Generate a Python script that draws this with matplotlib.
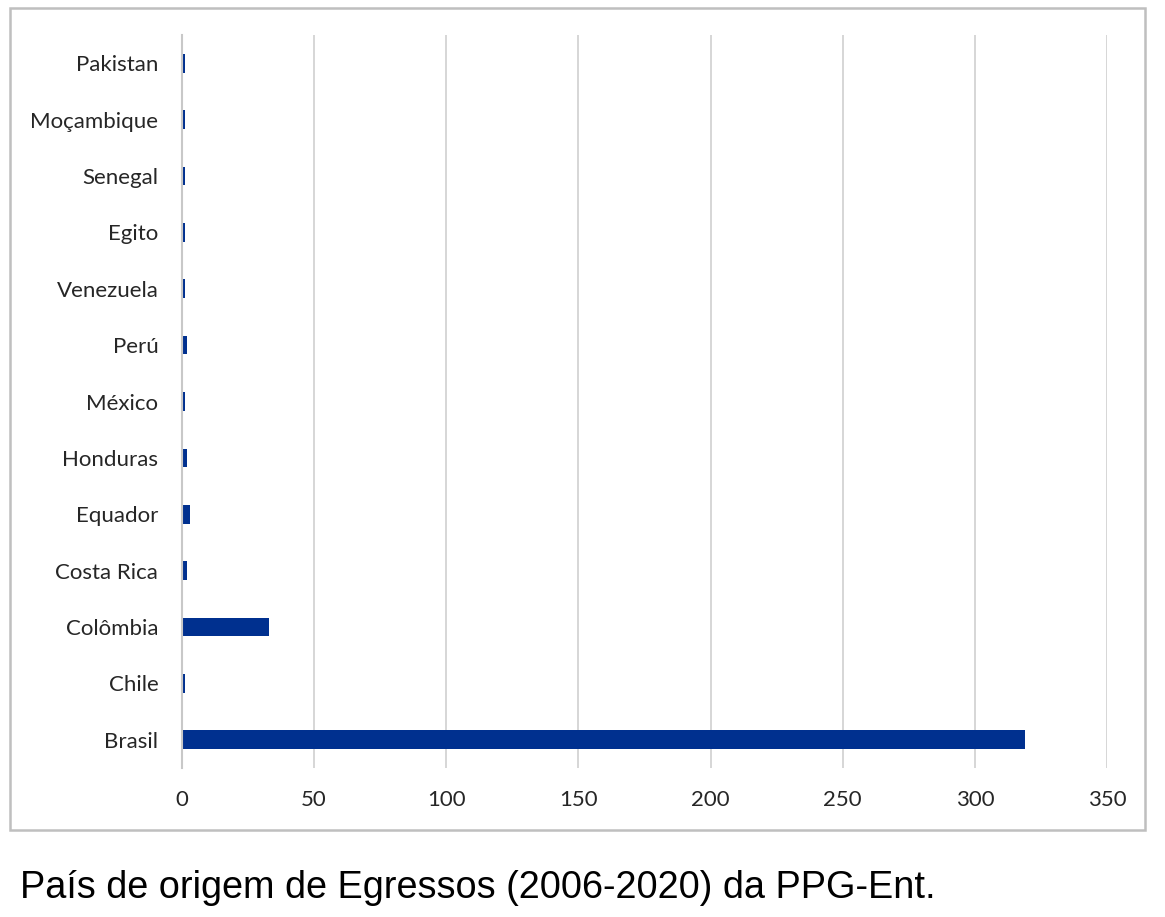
import matplotlib.pyplot as plt
from matplotlib.patches import Rectangle

paises = ['Brasil', 'Chile', 'Colômbia', 'Costa Rica', 'Equador', 'Honduras',
          'México', 'Perú', 'Venezuela', 'Egito', 'Senegal', 'Moçambique', 'Pakistan']
egressos = [319, 1, 33, 2, 3, 2, 1, 2, 1, 1, 1, 1, 1]
xticks = [0, 50, 100, 150, 200, 250, 300, 350]

fig = plt.figure(figsize=(11.65, 9.17), dpi=100)
ax = fig.add_axes([0.1562, 0.1625, 0.794, 0.7993])

ax.barh(range(len(paises)), egressos, height=0.33, color='#00308f', zorder=3)
ax.set_ylim(-0.5, len(paises) - 0.5)
ax.set_xlim(0, 350)
ax.set_yticks(range(len(paises)))
ax.set_yticklabels(paises, fontsize=16, family='Lato', color='#262626')
ax.set_xticks(xticks)
ax.set_xticklabels([str(v) for v in xticks], fontsize=16, family='Lato', color='#262626')
ax.tick_params(axis='y', length=0, pad=17)
ax.tick_params(axis='x', length=0, pad=16)
ax.grid(True, axis='x', color='#d0d0d0', linewidth=1.2, zorder=0)
for s in ['top', 'right', 'bottom']:
    ax.spines[s].set_visible(False)
ax.spines['left'].set_color('#c8c8c8')
ax.spines['left'].set_linewidth(1.5)
ax.spines['left'].set_zorder(4)

# moldura do gráfico
fig.patches.append(Rectangle((10 / 1165, 1 - 830 / 917), 1135 / 1165, 822 / 917,
                             transform=fig.transFigure, fill=False,
                             edgecolor='#bfbfbf', linewidth=1.8))

fig.text(20 / 1165, 1 - 888 / 917, 'País de origem de Egressos (2006-2020) da PPG-Ent.',
         fontsize=27.3, family='Liberation Sans',
         va='center', ha='left', color='black')

fig.savefig('out.png', dpi=100, facecolor='white')
